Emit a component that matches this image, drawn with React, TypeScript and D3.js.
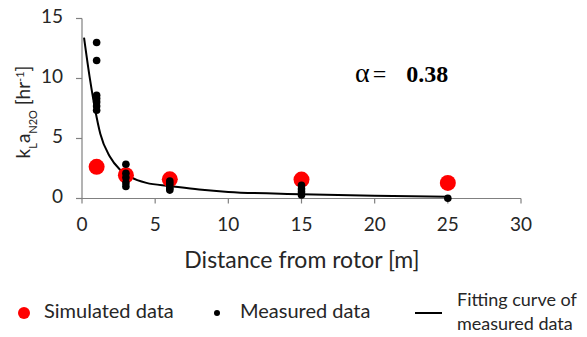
import React, { useEffect, useRef } from "react";
import * as d3 from "d3";

// Simulated data (red)
const simX = [1, 3, 6, 15, 25];
const simY = [2.64, 1.94, 1.6, 1.58, 1.3];

// Measured data (black)
const measX = [1, 1, 1, 1, 1, 1, 1, 3, 3, 3, 3, 3, 6, 6, 6, 6, 6, 15, 15, 15, 15, 25];
const measY = [13, 11.5, 8.6, 8.33, 8.05, 7.7, 7.35, 2.85, 2.1, 1.75, 1.3, 1.0, 1.45, 1.25, 1.05, 0.85, 0.7, 1.1, 0.8, 0.55, 0.3, 0.02];

// Fitting curve
const fitX = [0.14, 0.55, 0.9, 1.25, 1.9, 2.6, 3.3, 4.4, 6, 8, 10, 15, 20, 25];
const fitY = [13.4, 9.9, 7.4, 5.4, 3.5, 2.4, 1.8, 1.3, 1.05, 0.75, 0.55, 0.36, 0.22, 0.14];

const xTicks = [0, 5, 10, 15, 20, 25, 30];
const yTicks = [0, 5, 10, 15];

const App = () => {
  const ref = useRef(null);

  useEffect(() => {
    const svg = d3.select(ref.current);
    svg.selectAll("*").remove();

    const font = "Lato, 'Open Sans', sans-serif";
    const axisColor = "#808080";
    const textColor = "#262626";

    const x = d3.scaleLinear().domain([0, 30]).range([82, 521]);
    const y = d3.scaleLinear().domain([0, 15]).range([198.5, 18.5]);

    // axes lines
    svg.append("line")
      .attr("x1", x(0)).attr("x2", x(30))
      .attr("y1", y(0)).attr("y2", y(0))
      .attr("stroke", axisColor).attr("stroke-width", 1.2);
    svg.append("line")
      .attr("x1", x(0)).attr("x2", x(0))
      .attr("y1", y(0)).attr("y2", y(15))
      .attr("stroke", axisColor).attr("stroke-width", 1.2);

    // x ticks
    svg.selectAll("line.xt")
      .data(xTicks)
      .enter()
      .append("line")
      .attr("class", "xt")
      .attr("x1", d => x(d)).attr("x2", d => x(d))
      .attr("y1", y(0)).attr("y2", y(0) + 5)
      .attr("stroke", axisColor).attr("stroke-width", 1.2);
    svg.selectAll("text.xl")
      .data(xTicks)
      .enter()
      .append("text")
      .attr("class", "xl")
      .attr("x", d => x(d))
      .attr("y", 226)
      .attr("text-anchor", "middle")
      .attr("dominant-baseline", "middle")
      .style("font-family", font)
      .style("font-size", "19px")
      .style("fill", textColor)
      .text(d => d);

    // y ticks
    svg.selectAll("line.yt")
      .data(yTicks)
      .enter()
      .append("line")
      .attr("class", "yt")
      .attr("x1", x(0) - 6).attr("x2", x(0))
      .attr("y1", d => y(d)).attr("y2", d => y(d))
      .attr("stroke", axisColor).attr("stroke-width", 1.2);
    svg.selectAll("text.yl")
      .data(yTicks)
      .enter()
      .append("text")
      .attr("class", "yl")
      .attr("x", 63)
      .attr("y", d => y(d))
      .attr("text-anchor", "end")
      .attr("dominant-baseline", "middle")
      .style("font-family", font)
      .style("font-size", "19px")
      .style("fill", textColor)
      .text(d => d);

    // fitting curve
    const line = d3.line()
      .x(d => x(d[0]))
      .y(d => y(d[1]))
      .curve(d3.curveMonotoneX);
    svg.append("path")
      .datum(fitX.map((v, i) => [v, fitY[i]]))
      .attr("d", line)
      .attr("fill", "none")
      .attr("stroke", "#000")
      .attr("stroke-width", 2);

    // simulated
    svg.selectAll("circle.sim")
      .data(simX.map((v, i) => [v, simY[i]]))
      .enter()
      .append("circle")
      .attr("class", "sim")
      .attr("cx", d => x(d[0]))
      .attr("cy", d => y(d[1]))
      .attr("r", 8)
      .attr("fill", "#ff0000");

    // measured
    svg.selectAll("circle.meas")
      .data(measX.map((v, i) => [v, measY[i]]))
      .enter()
      .append("circle")
      .attr("class", "meas")
      .attr("cx", d => x(d[0]))
      .attr("cy", d => y(d[1]))
      .attr("r", 3.8)
      .attr("fill", "#000");

    // x axis title
    svg.append("text")
      .attr("x", 302)
      .attr("y", 262)
      .attr("text-anchor", "middle")
      .attr("dominant-baseline", "middle")
      .style("font-family", font)
      .style("font-size", "23px")
      .style("fill", textColor)
      .text("Distance from rotor [m]");

    // y axis title
    const yt = svg.append("text")
      .attr("transform", "translate(30,112) rotate(-90)")
      .attr("text-anchor", "middle")
      .style("font-family", font)
      .style("font-size", "19px")
      .style("fill", textColor);
    yt.append("tspan").text("k");
    yt.append("tspan").attr("baseline-shift", "sub").style("font-size", "11px").text("L");
    yt.append("tspan").text("a");
    yt.append("tspan").attr("baseline-shift", "sub").style("font-size", "11px").text("N2O");
    yt.append("tspan").text(" [hr");
    yt.append("tspan").attr("baseline-shift", "super").style("font-size", "11px").text("-1");
    yt.append("tspan").text("]");

    // alpha annotation
    const at = svg.append("text")
      .attr("x", 355)
      .attr("y", 82)
      .style("font-family", "'Liberation Serif', serif")
      .style("font-size", "24px")
      .style("fill", "#000");
    at.append("tspan").style("font-size", "28px").text("\u03b1");
    at.append("tspan").attr("dx", 3).text("=");
    at.append("tspan").attr("dx", 20).style("font-weight", "bold").text("0.38");

    // legend
    const legY = 313;
    const legFont = "20px";
    svg.append("circle").attr("cx", 24).attr("cy", legY).attr("r", 6).attr("fill", "#ff0000");
    svg.append("text")
      .attr("x", 44).attr("y", legY)
      .attr("dominant-baseline", "middle")
      .style("font-family", font).style("font-size", legFont).style("fill", textColor)
      .text("Simulated data");
    svg.append("circle").attr("cx", 217).attr("cy", legY).attr("r", 3).attr("fill", "#000");
    svg.append("text")
      .attr("x", 240).attr("y", legY)
      .attr("dominant-baseline", "middle")
      .style("font-family", font).style("font-size", legFont).style("fill", textColor)
      .text("Measured data");
    svg.append("line")
      .attr("x1", 415).attr("x2", 442)
      .attr("y1", legY).attr("y2", legY)
      .attr("stroke", "#000").attr("stroke-width", 2);
    svg.append("text")
      .attr("x", 457).attr("y", legY - 12)
      .attr("dominant-baseline", "middle")
      .style("font-family", font).style("font-size", "18px").style("fill", textColor)
      .text("Fitting curve of");
    svg.append("text")
      .attr("x", 457).attr("y", legY + 12)
      .attr("dominant-baseline", "middle")
      .style("font-family", font).style("font-size", "18px").style("fill", textColor)
      .text("measured data");
  }, []);

  return (
    <div style={{ position: "absolute", left: 0, top: 0, background: "#fff" }}>
      <svg ref={ref} width={587} height={337} style={{ display: "block" }}></svg>
    </div>
  );
};

export default App;
